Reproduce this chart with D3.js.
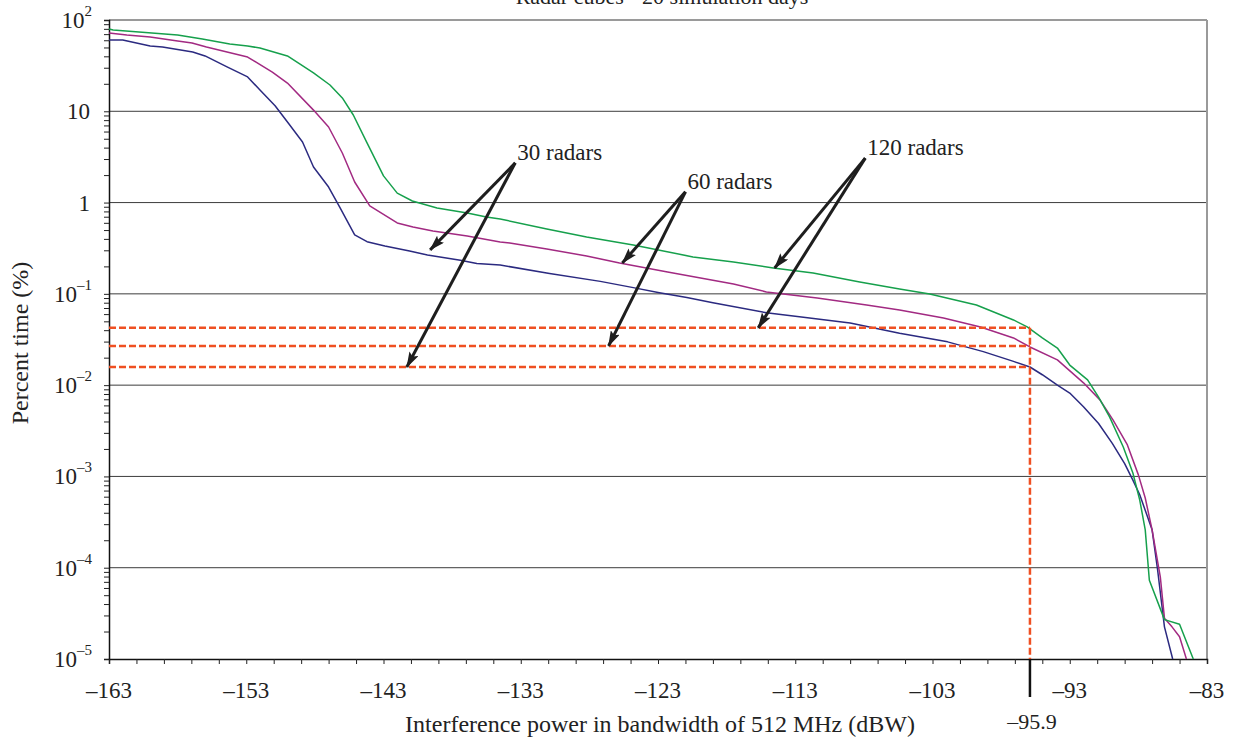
<!DOCTYPE html>
<html>
<head>
<meta charset="utf-8">
<script src="https://cdn.jsdelivr.net/npm/d3@7"></script>
<style>
  body { margin: 0; background: #fff; }
  svg { display: block; font-family: "Liberation Serif", "Times New Roman", serif; }
</style>
</head>
<body>
<svg id="chart" width="1238" height="743"></svg>
<script>
// data: interference power (dBW) vs percent time (%)
var r30x = [-163, -162, -160, -159.1, -156.9, -156, -154.4, -152.9, -152, -150.9, -149.9, -148.9, -148.1, -147, -146.2, -145.1, -144.2, -142.9, -141.1, -139.8, -137.4, -136.2, -134.5, -130.9, -127.2, -124.8, -122.9, -120.9, -119, -115.1, -112.7, -109, -105.4, -101.9, -99.3, -97.1, -95.9, -95, -93.9, -93, -92, -90.9, -89.9, -89, -88.4, -87.9, -87, -86.6, -86.1, -85.5];
var r30y = [60.4, 60.4, 51.9, 50.6, 44.7, 40.4, 30.6, 23.8, 17.1, 11.5, 7.3, 4.6, 2.45, 1.48, 0.895, 0.442, 0.373, 0.335, 0.295, 0.267, 0.234, 0.215, 0.207, 0.167, 0.137, 0.117, 0.103, 0.091, 0.080, 0.062, 0.056, 0.048, 0.037, 0.0298, 0.0233, 0.0182, 0.0158, 0.0130, 0.0100, 0.0082, 0.0058, 0.0038, 0.0023, 0.00138, 0.00091, 0.00063, 0.00026, 0.000095, 0.0000225, 0.00001];

var r60x = [-163, -161.7, -160, -158, -156.95, -155.9, -152.9, -151.1, -150, -148.1, -147, -146, -145.1, -144, -142, -140.85, -139.4, -136.9, -134.5, -133.8, -131.1, -128.2, -125.8, -122.3, -117.5, -115.1, -111.4, -107.8, -105.4, -102.2, -99.5, -97.1, -95.9, -93.9, -92, -90.8, -89.85, -88.8, -88, -87.5, -87, -86.4, -86.1, -85.55, -85, -84.5];
var r60y = [72.1, 68.5, 65.2, 58.9, 56.0, 50.6, 39.3, 26.9, 20.4, 10.3, 6.73, 3.49, 1.68, 0.918, 0.598, 0.541, 0.489, 0.431, 0.370, 0.360, 0.310, 0.260, 0.218, 0.174, 0.128, 0.105, 0.090, 0.0755, 0.0666, 0.0545, 0.0434, 0.0329, 0.0262, 0.0189, 0.0106, 0.0069, 0.00416, 0.00221, 0.00104, 0.00058, 0.00026, 0.000079, 0.000028, 0.0000225, 0.0000175, 0.00001];

var r120x = [-163, -162.7, -158, -157.1, -156.2, -154.2, -152.9, -152, -150, -148.1, -146.9, -146, -145.2, -144.2, -143, -142, -140.9, -139.1, -136.9, -135.5, -134.5, -131.1, -128.2, -124.8, -120.45, -117.5, -114.6, -111.7, -108.3, -105.4, -103.2, -99.8, -97.1, -96.1, -95, -93.9, -93, -91.7, -90.9, -90.1, -89.1, -88.4, -87.9, -87.5, -87.2, -86.1, -85, -84];
var r120y = [79.6, 77.6, 68.5, 65.2, 62.0, 54.6, 51.9, 49.3, 40.4, 26.3, 19.4, 14.0, 9.1, 4.50, 1.96, 1.27, 1.04, 0.873, 0.769, 0.695, 0.661, 0.514, 0.420, 0.343, 0.254, 0.223, 0.192, 0.169, 0.135, 0.113, 0.0997, 0.0755, 0.0518, 0.0434, 0.0329, 0.0255, 0.0166, 0.0114, 0.0074, 0.00449, 0.0021, 0.00109, 0.00055, 0.00026, 0.000073, 0.000027, 0.000024, 0.00001];

var xTickLabels = [-163, -153, -143, -133, -123, -113, -103, -93, -83];
var yDecades = [-5, -4, -3, -2, -1, 0, 1, 2];

// reference levels read at -95.9 dBW
var refX = -95.9;
var refLevels = [0.0424, 0.0269, 0.0158];

// annotations: label anchor and two arrow tips (dBW, %)
var noteLabels = ["30 radars", "60 radars", "120 radars"];
var noteFrom = [[-133.4, 2.72], [-121.0, 1.31], [-107.9, 3.07]];
var noteTipA = [[-139.6, 0.303], [-125.6, 0.218], [-114.5, 0.192]];
var noteTipB = [[-141.3, 0.0158], [-126.6, 0.0269], [-115.7, 0.0424]];

var series = [
  { x: r30x, y: r30y, color: "#2b2a80" },
  { x: r60x, y: r60y, color: "#a22a82" },
  { x: r120x, y: r120y, color: "#16a04c" }
];

var svg = d3.select("#chart"),
    margin = { top: 20, right: 31, bottom: 84, left: 109 },
    W = 1238, H = 743;

var xScale = d3.scaleLinear().domain([-163, -83]).range([margin.left, W - margin.right]);
var yScale = d3.scaleLog().domain([1e-5, 100]).range([H - margin.bottom, margin.top]);

// title (runs off the top edge as in the source)
svg.append("text")
  .attr("x", 662).attr("y", 4)
  .attr("text-anchor", "middle")
  .attr("font-size", 22)
  .attr("fill", "#222")
  .text("Radar cubes - 20 simulation days");

// grid lines
svg.append("g").selectAll("line")
  .data(yDecades.slice(1, -1))
  .enter().append("line")
  .attr("x1", xScale(-163)).attr("x2", xScale(-83))
  .attr("y1", function(d) { return yScale(Math.pow(10, d)); })
  .attr("y2", function(d) { return yScale(Math.pow(10, d)); })
  .attr("stroke", "#3c3c3c").attr("stroke-width", 1);

// frame top/right
svg.append("line")
  .attr("x1", xScale(-163)).attr("x2", xScale(-83))
  .attr("y1", yScale(100)).attr("y2", yScale(100))
  .attr("stroke", "#9a9a9a").attr("stroke-width", 2);
svg.append("line")
  .attr("x1", xScale(-83)).attr("x2", xScale(-83))
  .attr("y1", yScale(100)).attr("y2", yScale(1e-5))
  .attr("stroke", "#9a9a9a").attr("stroke-width", 2);

// y axis with minor ticks
var yTicks = [];
for (var k = -5; k < 2; k++) {
  for (var m = 1; m < 10; m++) yTicks.push(m * Math.pow(10, k));
}
yTicks.push(100);
var yAxis = d3.axisLeft(yScale).tickValues(yTicks).tickSize(5).tickFormat("");
var yG = svg.append("g").attr("transform", "translate(" + margin.left + ",0)").call(yAxis);
yG.select(".domain").attr("stroke", "#111").attr("stroke-width", 1.5);
yG.selectAll(".tick line").attr("stroke", "#222");

// x axis
var xAxis = d3.axisBottom(xScale).tickValues(d3.range(-163, -82, 2)).tickSize(5).tickFormat("");
var xG = svg.append("g").attr("transform", "translate(0," + (H - margin.bottom) + ")").call(xAxis);
xG.select(".domain").attr("stroke", "#111").attr("stroke-width", 1.5);
xG.selectAll(".tick line").attr("stroke", "#222");

// y tick labels
var yl = svg.append("g").attr("font-size", 23).attr("fill", "#222");
yDecades.forEach(function(d) {
  var t = yl.append("text")
    .attr("y", yScale(Math.pow(10, d)) + 8)
    .attr("text-anchor", "end");
  if (d === 0 || d === 1) {
    t.attr("x", 90).text(d === 0 ? "1" : "10");
  } else {
    t.attr("x", 92);
    t.append("tspan").text("10");
    t.append("tspan").attr("font-size", 15).attr("dy", -12)
      .text(d < 0 ? "\u2013" + (-d) : String(d));
  }
});

// x tick labels
svg.append("g").selectAll("text")
  .data(xTickLabels)
  .enter().append("text")
  .attr("x", function(d) { return xScale(d); })
  .attr("y", 698)
  .attr("text-anchor", "middle")
  .attr("font-size", 23).attr("fill", "#222")
  .text(function(d) { return "\u2013" + (-d); });

// axis titles
svg.append("text")
  .attr("x", 660).attr("y", 732)
  .attr("text-anchor", "middle")
  .attr("font-size", 24).attr("fill", "#222")
  .text("Interference power in bandwidth of 512 MHz (dBW)");
svg.append("text")
  .attr("transform", "translate(28," + 343 + ") rotate(-90)")
  .attr("text-anchor", "middle")
  .attr("font-size", 24).attr("fill", "#222")
  .text("Percent time (%)");

// curves
var line = d3.line()
  .x(function(d) { return xScale(d[0]); })
  .y(function(d) { return yScale(d[1]); });

series.forEach(function(s) {
  svg.append("path")
    .datum(s.x.map(function(v, i) { return [v, s.y[i]]; }))
    .attr("d", line)
    .attr("fill", "none")
    .attr("stroke", s.color)
    .attr("stroke-width", 1.5)
    .attr("stroke-linejoin", "round");
});

// reference dashed lines
var dash = svg.append("g")
  .attr("stroke", "#ef5022").attr("stroke-width", 2.5)
  .attr("stroke-dasharray", "7,3").attr("fill", "none");
refLevels.forEach(function(v) {
  dash.append("line")
    .attr("x1", xScale(-163)).attr("x2", xScale(refX))
    .attr("y1", yScale(v)).attr("y2", yScale(v));
});
dash.append("line")
  .attr("x1", xScale(refX)).attr("x2", xScale(refX))
  .attr("y1", yScale(d3.max(refLevels))).attr("y2", yScale(1e-5));

svg.append("line")
  .attr("x1", xScale(refX)).attr("x2", xScale(refX))
  .attr("y1", yScale(1e-5)).attr("y2", 697)
  .attr("stroke", "#111").attr("stroke-width", 2.5);
svg.append("text")
  .attr("x", xScale(refX) + 2).attr("y", 729)
  .attr("text-anchor", "middle")
  .attr("font-size", 22).attr("fill", "#222")
  .text("\u2013" + (-refX));

// annotations with arrows
svg.append("defs").append("marker")
  .attr("id", "arrow")
  .attr("viewBox", "0 0 16 10")
  .attr("refX", 15).attr("refY", 5)
  .attr("markerWidth", 16).attr("markerHeight", 10)
  .attr("markerUnits", "userSpaceOnUse")
  .attr("orient", "auto")
  .append("path")
  .attr("d", "M0,0 L16,5 L0,10 L3,5 z")
  .attr("fill", "#1e1e1e");

var notes = svg.append("g");
noteLabels.forEach(function(lab, i) {
  var fx = xScale(noteFrom[i][0]), fy = yScale(noteFrom[i][1]);
  [noteTipA[i], noteTipB[i]].forEach(function(tp) {
    notes.append("line")
      .attr("x1", fx).attr("y1", fy)
      .attr("x2", xScale(tp[0])).attr("y2", yScale(tp[1]))
      .attr("stroke", "#1e1e1e").attr("stroke-width", 3)
      .attr("marker-end", "url(#arrow)");
  });
  notes.append("text")
    .attr("x", fx + 2).attr("y", fy - 3)
    .attr("font-size", 23).attr("fill", "#222")
    .text(lab);
});
</script>
</body>
</html>
